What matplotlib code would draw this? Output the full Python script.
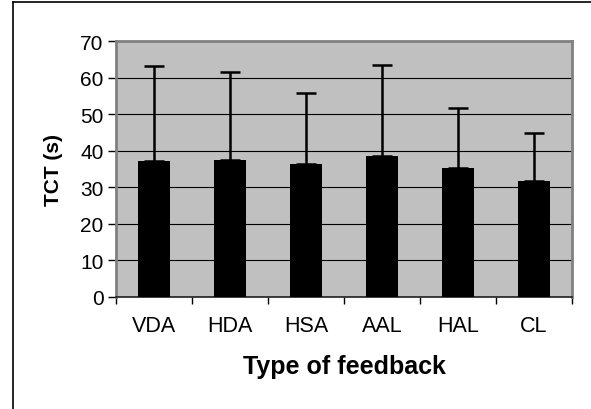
import matplotlib
matplotlib.use("Agg")
import matplotlib.pyplot as plt
import numpy as np
from matplotlib.lines import Line2D

plt.rcParams['font.family'] = ['Liberation Sans', 'DejaVu Sans']

# feedback types and task completion times (mean, sd)
feedback = ['VDA', 'HDA', 'HSA', 'AAL', 'HAL', 'CL']
tct_mean = [37.3, 37.5, 36.3, 38.5, 35.2, 31.7]
tct_sd = [25.8, 24.0, 19.5, 24.9, 16.5, 13.1]

fig = plt.figure(figsize=(5.91, 4.10), dpi=100)
ax = fig.add_axes([116/591, 1-298/410, (572-116)/591, (298-42)/410])
ax.set_facecolor('#C0C0C0')

x = np.arange(len(feedback))
ax.bar(x, tct_mean, width=0.43, color='black', zorder=3)
ax.errorbar(x, tct_mean, yerr=[np.zeros(len(x)), tct_sd], fmt='none',
            ecolor='black', elinewidth=1.8, capsize=7.4, capthick=1.8, zorder=4)

ax.set_ylim(0, 70)
ax.set_yticks(range(0, 71, 10))
ax.set_xlim(-0.5, len(x) - 0.5)
ax.set_xticks(x)
ax.set_xticklabels(feedback)
ax.set_xticks(np.arange(-0.5, len(x)), minor=True)
ax.tick_params(axis='x', which='major', length=0, pad=13, labelsize=15.5)
ax.tick_params(axis='x', which='minor', length=5, width=1, direction='out')
ax.tick_params(axis='y', length=6, width=1, direction='out', labelsize=15, pad=3)
ax.yaxis.grid(True, color='black', linewidth=0.8, zorder=1)
ax.set_axisbelow(True)

for s in ['top', 'right', 'left']:
    ax.spines[s].set_color('#808080')
    ax.spines[s].set_linewidth(2)
ax.spines['bottom'].set_color('#202020')
ax.spines['bottom'].set_linewidth(1.2)

ax.set_ylabel('TCT (s)', fontsize=15, fontweight='bold', labelpad=12)
ax.set_xlabel('Type of feedback', fontsize=18, fontweight='bold', labelpad=13)

# outer chart frame (left and top edges visible)
fig.add_artist(Line2D([13/591, 13/591], [0, 1-3/410], color='black', lw=1.2,
                      transform=fig.transFigure))
fig.add_artist(Line2D([13/591, 1], [1-3/410, 1-3/410], color='black', lw=1.2,
                      transform=fig.transFigure))

fig.savefig('out.png', dpi=100)
